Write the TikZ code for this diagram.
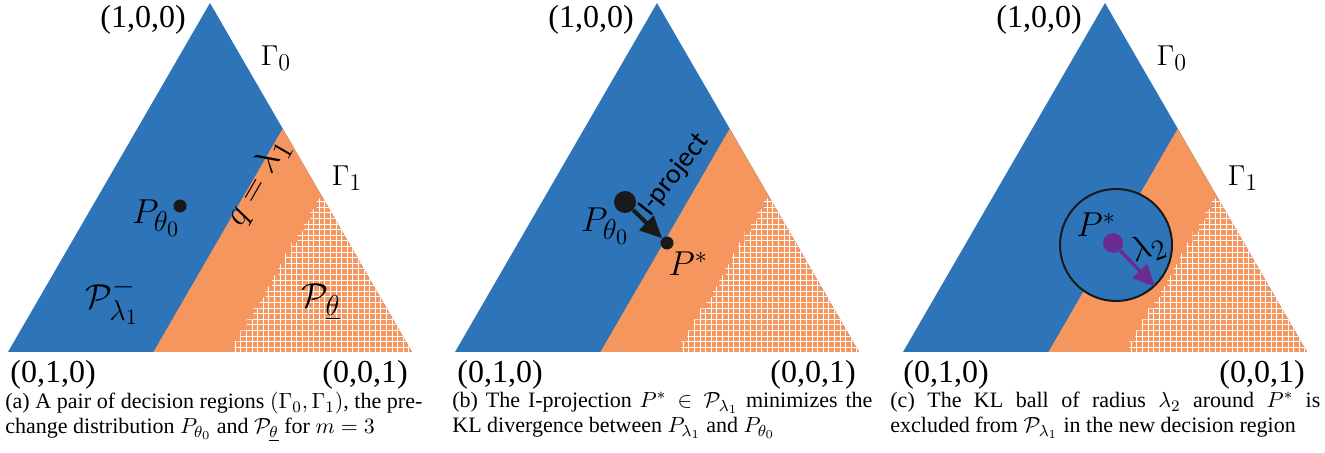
\documentclass[tikz,border=0pt]{standalone}
\usepackage{fontspec}
\setmainfont{Liberation Serif}
\newfontfamily\calibri{Carlito}
\usetikzlibrary{calc,arrows.meta}

\definecolor{regblue}{HTML}{2E74B8}
\definecolor{regorange}{HTML}{F5965E}
\definecolor{ballpurple}{HTML}{6A2C91}

\DeclareMathSizes{18}{18}{14}{11}
\DeclareMathSizes{16}{16}{12.5}{10}
\DeclareMathSizes{15}{15}{12}{9}
\DeclareMathSizes{11}{11}{8}{6}

\begin{document}
\begin{tikzpicture}[x=0.5pt, y=-0.5pt,
  vlabel/.style={font=\fontsize{16}{18}\selectfont, inner sep=0pt},
  glabel/.style={font=\fontsize{15}{17}\selectfont, inner sep=0pt},
  mlabel/.style={font=\fontsize{18}{20}\selectfont, inner sep=0pt},
  slabel/.style={font=\fontsize{16}{18}\selectfont, inner sep=0pt},
  dot/.style={circle, fill=black!90, inner sep=0pt, minimum size=#1},
  caption/.style={font=\fontsize{11}{12.5}\selectfont, align=justify,
                  anchor=north west, inner sep=0pt, text width=#1},
  projarrow/.style={-{Triangle[length=11pt,width=10pt]}, line width=2pt, black!90},
  ballarrow/.style={-{Triangle[length=11pt,width=10pt]}, line width=1.7pt, ballpurple},
  hatch/.style={white, line width=0.4pt},
]
\useasboundingbox (0,0) rectangle (1325,453);

% the three simplices with their decision regions
\foreach \cx/\p in {210/a, 657/b, 1105/c} {
  \coordinate (\p top)   at (\cx,3);
  \coordinate (\p left)  at (\cx-202,352);
  \coordinate (\p right) at (\cx+202,352);
  \fill[regblue] (\p top) -- (\p left) -- (\p right) -- cycle;
  \fill[regorange] ($(\p top)!0.36!(\p right)$) -- ($(\p left)!0.36!(\p right)$)
    -- (\p right) -- cycle;
  \begin{scope}
    \clip ($(\p top)!0.56!(\p right)$)
      \foreach \k in {1,...,14} { -- ++(-6.36,0) -- ++(0,11) } -- (\p right) -- cycle;
    \draw[hatch] (\cx,190) grid[step=2.8pt] (\cx+210,360);
  \end{scope}
}

% (a)
\node[vlabel] (a100) at (143,20)  {(1,0,0)};
\node[vlabel] (a010) at (53,375)  {(0,1,0)};
\node[vlabel] (a001) at (365,375) {(0,0,1)};
\node[glabel] (agam0) at (276,58)  {$\Gamma_0$};
\node[glabel] (agam1) at (347,178) {$\Gamma_1$};
\node[dot=6.5pt] (atheta) at (180,206) {};
\node[mlabel] (aptheta) at (156,218) {$P_{\theta_0}$};
\node[mlabel, rotate=60] (aq) at (258,182) {$q=\lambda_1$};
\node[mlabel] (aminus) at (112,301) {$\mathcal{P}^-_{\lambda_1}$};
\node[mlabel] (aunder) at (321,302) {$\mathcal{P}_{\underline{\theta}}$};

% (b)
\node[vlabel] (b100) at (591,20)  {(1,0,0)};
\node[vlabel] (b010) at (500,375) {(0,1,0)};
\node[vlabel] (b001) at (813,375) {(0,0,1)};
\node[dot=11pt]  (btheta) at (625,202) {};
\node[dot=6.5pt] (bstar)  at (667,243) {};
\draw[projarrow] (btheta) -- (bstar);
\node[font=\calibri\fontsize{14}{16}\selectfont, inner sep=0pt, rotate=52] (bproj)
  at (674,175) {I-project};
\node[mlabel] (bptheta) at (605,226) {$P_{\theta_0}$};
\node[slabel] (bpstar)  at (688,264) {$P^*$};

% (c)
\node[vlabel] (c100) at (1039,20)  {(1,0,0)};
\node[vlabel] (c010) at (946,375)  {(0,1,0)};
\node[vlabel] (c001) at (1262,375) {(0,0,1)};
\node[glabel] (cgam0) at (1172,58)  {$\Gamma_0$};
\node[glabel] (cgam1) at (1243,178) {$\Gamma_1$};
\node[circle, draw=black!90, line width=1pt, fill=regblue, inner sep=0pt,
      minimum size=56pt] (cball) at (1116,245) {};
\node[dot=10pt, fill=ballpurple] (cstar) at (1113,243) {};
\draw[ballarrow] (cstar) -- (cball.-47);
\node[slabel] (cpstar) at (1096,225) {$P^*$};
\node[mlabel, rotate=20] (clam) at (1148,248) {$\lambda_2$};

% captions
\node[caption=208.5pt] (capa) at (5,392) {(a) A pair of decision regions
  $(\Gamma_0,\Gamma_1)$, the pre-\linebreak change distribution $P_{\theta_0}$
  and $\mathcal{P}_{\underline{\theta}}$ for $m = 3$};
\node[caption=210pt] (capb) at (452,392) {(b) The I-projection
  $P^* \in \mathcal{P}_{\lambda_1}$ minimizes the\linebreak KL divergence between
  $P_{\lambda_1}$ and $P_{\theta_0}$};
\node[caption=215pt] (capc) at (890,392) {(c) The KL ball of radius $\lambda_2$
  around $P^*$ is\linebreak excluded from $\mathcal{P}_{\lambda_1}$ in the new
  decision region};
\end{tikzpicture}
\end{document}
